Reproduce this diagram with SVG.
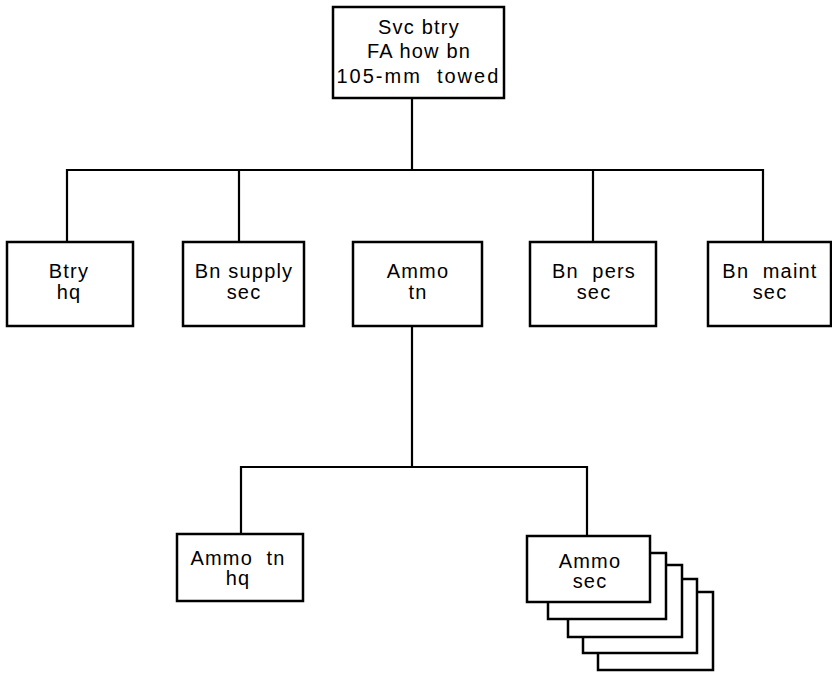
<svg xmlns="http://www.w3.org/2000/svg" width="832" height="673" viewBox="0 0 832 673">
<style>
.box{fill:#fff;stroke:#000;stroke-width:2.5}
.conn{fill:none;stroke:#000;stroke-width:2.2}
text{font-family:"Liberation Sans",Arial,sans-serif;font-size:20px;fill:#000;text-anchor:middle;letter-spacing:1.2px}
</style>
<rect width="832" height="673" fill="#fff"/>
<g id="connectors">
<path class="conn" d="M412 98V170M67 242V170H763V242M239 170V242M593 170V242"/>
<path class="conn" d="M412 326V467M241 534V467H587V536"/>
</g>
<g id="svc-btry">
<rect class="box" x="333" y="7" width="171" height="91"/>
<text x="419" y="34">Svc btry</text>
<text x="419" y="58">FA how bn</text>
<text x="418" y="83" xml:space="preserve" textLength="163" lengthAdjust="spacing">105-mm  towed</text>
</g>
<g id="btry-hq">
<rect class="box" x="7" y="242" width="126" height="84"/>
<text x="69" y="278">Btry</text>
<text x="69" y="299">hq</text>
</g>
<g id="bn-supply-sec">
<rect class="box" x="183" y="242" width="121" height="84"/>
<text x="244" y="278">Bn supply</text>
<text x="244" y="299">sec</text>
</g>
<g id="ammo-tn">
<rect class="box" x="353" y="242" width="129" height="84"/>
<text x="418" y="278">Ammo</text>
<text x="418" y="299">tn</text>
</g>
<g id="bn-pers-sec">
<rect class="box" x="530" y="242" width="126" height="84"/>
<text x="594" y="278" xml:space="preserve">Bn  pers</text>
<text x="594" y="299">sec</text>
</g>
<g id="bn-maint-sec">
<rect class="box" x="708" y="242" width="123" height="84"/>
<text x="770" y="278" xml:space="preserve">Bn  maint</text>
<text x="770" y="299">sec</text>
</g>
<g id="ammo-tn-hq">
<rect class="box" x="177" y="534" width="126" height="67"/>
<text x="238" y="565" xml:space="preserve">Ammo  tn</text>
<text x="238" y="585">hq</text>
</g>
<g id="ammo-sec">
<rect class="box" x="598" y="592" width="115" height="78"/>
<rect class="box" x="583" y="579" width="114" height="74"/>
<rect class="box" x="568" y="565" width="114" height="72"/>
<rect class="box" x="548" y="553" width="118" height="66"/>
<rect class="box" x="527" y="536" width="123" height="66"/>
<text x="590" y="568">Ammo</text>
<text x="590" y="588">sec</text>
</g>
</svg>
